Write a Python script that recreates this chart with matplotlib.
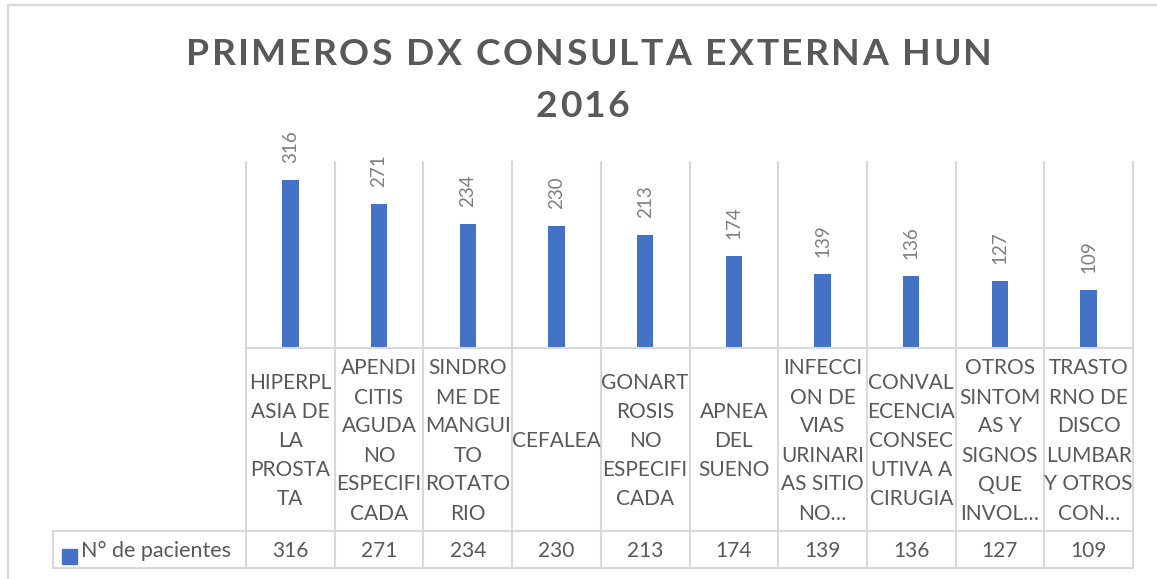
import matplotlib
matplotlib.use('Agg')
import matplotlib.pyplot as plt
from matplotlib.transforms import blended_transform_factory
from matplotlib.patches import Rectangle
from matplotlib.lines import Line2D
from matplotlib.font_manager import FontProperties

# ---------------- data ----------------
categories = [
    "HIPERPL\nASIA DE\nLA\nPROSTA\nTA",
    "APENDI\nCITIS\nAGUDA\nNO\nESPECIFI\nCADA",
    "SINDRO\nME DE\nMANGUI\nTO\nROTATO\nRIO",
    "CEFALEA",
    "GONART\nROSIS\nNO\nESPECIFI\nCADA",
    "APNEA\nDEL\nSUENO",
    "INFECCI\nON DE\nVIAS\nURINARI\nAS SITIO\nNO…",
    "CONVAL\nECENCIA\nCONSEC\nUTIVA A\nCIRUGIA",
    "OTROS\nSINTOM\nAS Y\nSIGNOS\nQUE\nINVOL…",
    "TRASTO\nRNO DE\nDISCO\nLUMBAR\nY OTROS\nCON…",
]
values = [316, 271, 234, 230, 213, 174, 139, 136, 127, 109]
series_name = "N° de pacientes"
title_lines = ["PRIMEROS DX CONSULTA EXTERNA HUN", "2016"]

# ---------------- style ----------------
W, H = 1157, 579
BAR = '#4472C4'
GRID = '#D9D9D9'
TXT = '#595959'
LBL = '#7F7F7F'
FONT = 'Lato'

def fx(px):
    return px / W

def fy(py):
    return 1 - py / H

fig = plt.figure(figsize=(W / 100, H / 100), dpi=100)
fig.patch.set_facecolor('white')

# outer chart border (only left/top visible)
fig.add_artist(Line2D([fx(7.5), fx(7.5)], [fy(4.5), fy(600)], color=GRID, lw=1.6,
                      transform=fig.transFigure))
fig.add_artist(Line2D([fx(7.5), fx(1200)], [fy(4.5), fy(4.5)], color=GRID, lw=1.6,
                      transform=fig.transFigure))

# plot area
ax = fig.add_axes([fx(246), fy(348), (1133 - 246) / W, (348 - 162) / H])
ax.set_xlim(-0.5, len(values) - 0.5)
ax.set_ylim(0, 350)
ax.axis('off')
x = list(range(len(values)))
bars = ax.bar(x, values, width=0.185, color=BAR, zorder=3)
for xi, v in zip(x, values):
    ax.annotate(str(v), (xi, v), xytext=(0, 12.0), textcoords='offset points',
                rotation=90, ha='center', va='bottom', color=LBL,
                fontsize=13.5, family=FONT, annotation_clip=False)

trans = blended_transform_factory(ax.transData, fig.transFigure)
lw = 1.5
# vertical table lines
for i in range(len(values) + 1):
    xb = i - 0.5
    fig.add_artist(Line2D([xb, xb], [fy(162), fy(568)], color=GRID, lw=lw, transform=trans))
# horizontal lines
fig.add_artist(Line2D([-0.5, len(values) - 0.5], [fy(348), fy(348)], color=GRID, lw=lw, transform=trans))
for yy in (531, 568):
    fig.add_artist(Line2D([-0.5, len(values) - 0.5], [fy(yy), fy(yy)], color=GRID, lw=lw, transform=trans))
    fig.add_artist(Line2D([fx(53), fx(246)], [fy(yy), fy(yy)], color=GRID, lw=lw, transform=fig.transFigure))
fig.add_artist(Line2D([fx(53), fx(53)], [fy(531), fy(568)], color=GRID, lw=lw, transform=fig.transFigure))

# category labels
cap_half = 7.5
FS = 15
for i, lab in enumerate(categories):
    lines = lab.split('\n')
    n = len(lines)
    for j, ln in enumerate(lines):
        yc = 439.5 + (j - (n - 1) / 2) * 29
        fig.text(i, fy(yc + cap_half), ln, transform=trans, ha='center', va='baseline',
                 color=TXT, fontsize=FS, family=FONT)

# values row
for i, v in enumerate(values):
    fig.text(i, fy(549.3 + cap_half), str(v), transform=trans, ha='center', va='baseline',
             color=TXT, fontsize=FS, family=FONT)

# legend key
fig.add_artist(Rectangle((fx(62), fy(564)), 15 / W, 15 / H, color=BAR, transform=fig.transFigure))
fig.text(fx(81), fy(549.3 + cap_half), series_name, ha='left', va='baseline',
         color=TXT, fontsize=FS + 0.5, family=FONT)

# title with letter spacing
renderer = fig.canvas.get_renderer()
tprop = FontProperties(family=FONT, weight='bold', size=26.8)

def wid(s):
    return renderer.get_text_width_height_descent(s, tprop, ismath=False)[0]

def tracked(text, cx, base_y, target_w):
    base = wid('HH')
    adv = [wid('H' + c + 'H') - base for c in text]
    t = (target_w - sum(adv)) / (len(text) - 1)
    xx = cx - target_w / 2
    for c, a in zip(text, adv):
        if c != ' ':
            fig.text(fx(xx), fy(base_y), c, ha='left', va='baseline', color=TXT,
                     fontproperties=tprop)
        xx += a + t

tracked(title_lines[0], 589, 65, 806)
tracked(title_lines[1], 582.5, 116.7, 93)

fig.savefig('out.png', dpi=100)
